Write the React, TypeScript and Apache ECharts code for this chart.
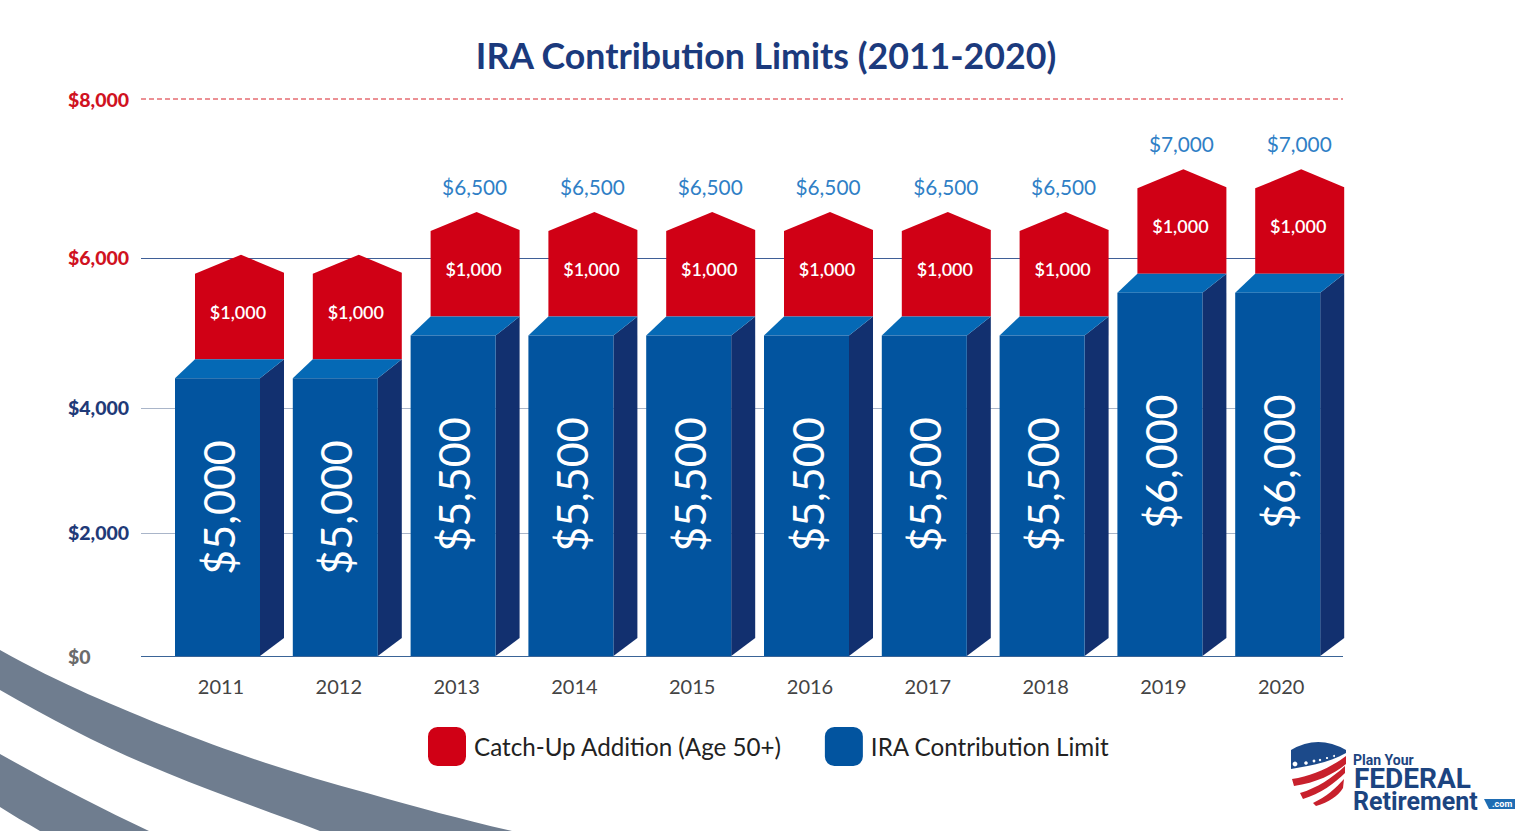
import React, { useEffect, useRef } from "react";
import * as echarts from "echarts";

const categories = ["2011", "2012", "2013", "2014", "2015", "2016", "2017", "2018", "2019", "2020"];
const limitValues = [5000, 5000, 5500, 5500, 5500, 5500, 5500, 5500, 6000, 6000];
const catchUpValues = [1000, 1000, 1000, 1000, 1000, 1000, 1000, 1000, 1000, 1000];
const totalLabelValues = [null, null, 6500, 6500, 6500, 6500, 6500, 6500, 7000, 7000];
const tickLabels = ["$0", "$2,000", "$4,000", "$6,000", "$8,000"];
const tickPlaces = [0, 1767, 3563, 5717, 8000];
const tickColors = ["#6b6b6b", "#1f3a78", "#1f3a78", "#d0121f", "#d0121f"];
const gridLineColors = ["#3a6497", "#a9b5c9", "#a9b5c9", "#3f5f97", "transparent"];
const dashedLineValues = [8000];

const money = (v: number) => "$" + v.toLocaleString("en-US");

const shapes: Record<string, string> = {
  swooshA: "M0 650 C60 684 120 708 167 727 C240 756 300 775 367 793 C420 808 460 819 512 831 L320 831 C270 812 215 793 167 773 C110 750 55 722 0 690 Z",
  swooshB: "M0 754 C50 782 100 808 149 831 L40 831 C25 822 12 815 0 807 Z",
  shieldBlue: "M1291 750 Q1318 734 1346 750 L1346 753 C1330 762 1310 766 1291 769 Z",
  stripe1: "M1346 756 C1330 768 1312 776 1292 779 L1294 786 C1316 783 1334 774 1346 764 Z",
  stripe2: "M1345 766 C1332 778 1317 788 1300 793 L1303 799 C1320 794 1335 783 1345 773 Z",
  stripe3: "M1344 779 C1336 788 1326 797 1313 803 L1316 806 C1329 802 1338 796 1343 788 Z",
  badge: "M1484 799 L1515 799 L1515 809 L1489 809 Z",
};
Object.keys(shapes).forEach((k) => {
  echarts.graphic.registerShape(k, echarts.graphic.extendPath(shapes[k] as any, {} as any) as any);
});

const BLUE_FRONT = "#02549f";
const BLUE_TOP = "#0569b5";
const BLUE_SIDE = "#12306f";
const RED = "#d00015";

function frontLeft(api: any, idx: number) {
  return api.coord([idx, 2000])[0] - 46;
}

function renderRed(_: any, api: any) {
  const idx = api.value(0) as number;
  const base = api.value(1) as number;
  const add = api.value(2) as number;
  const top = api.value(3) as number;
  const fl = frontLeft(api, idx);
  const yBase = api.coord([idx, base])[1];
  const yShoulder = api.coord([idx, base + add])[1];
  const xL = fl + 20;
  const xR = fl + 109;
  const children: any[] = [
    {
      type: "polygon",
      shape: { points: [[xL, yBase], [xL, yShoulder], [fl + 66, yShoulder - 19], [xR, yShoulder - 1], [xR, yBase]] },
      style: { fill: RED },
    },
    {
      type: "text",
      x: fl + 63,
      y: (yBase + yShoulder) / 2 - 5,
      style: { text: money(add), fill: "#fff", font: "600 18px Lato", align: "center", verticalAlign: "middle" },
    },
  ];
  if (top) {
    children.push({
      type: "text",
      x: fl + 64,
      y: yShoulder - 45,
      style: { text: money(top), fill: "#2f7fc6", font: "20.8px Lato", align: "center", verticalAlign: "middle" },
    });
  }
  return { type: "group", children };
}

function renderBlue(params: any, api: any) {
  const idx = api.value(0) as number;
  const val = api.value(1) as number;
  const fl = frontLeft(api, idx);
  const yBack = api.coord([idx, val])[1];
  const yBottom = params.coordSys.y + params.coordSys.height;
  const yFront = yBack + 19;
  const fr = fl + 85;
  const br = fl + 109;
  return {
    type: "group",
    children: [
      { type: "polygon", shape: { points: [[fr, yFront], [br, yBack], [br, yBottom - 18], [fr, yBottom]] }, style: { fill: BLUE_SIDE } },
      { type: "polygon", shape: { points: [[fl, yFront], [fr, yFront], [br, yBack], [fl + 20, yBack]] }, style: { fill: BLUE_TOP } },
      { type: "rect", shape: { x: fl, y: yFront, width: 85, height: yBottom - yFront }, style: { fill: BLUE_FRONT } },
      {
        type: "text",
        x: fl + 43,
        y: yBottom - (yBottom - yFront) * 0.535,
        rotation: Math.PI / 2,
        style: { text: money(val), fill: "#fff", font: "400 43px Lato", align: "center", verticalAlign: "middle" },
      },
    ],
  };
}

function renderDashed(params: any, api: any) {
  const y = api.coord([0, api.value(0)])[1];
  return {
    type: "line",
    shape: { x1: params.coordSys.x, y1: y, x2: params.coordSys.x + params.coordSys.width, y2: y },
    style: { stroke: "#d8232a", lineWidth: 1, lineDash: [5, 3] },
  };
}

const star = (cx: number, cy: number, r: number) => ({ type: "circle", shape: { cx, cy, r }, style: { fill: "#fff" } });

export default function App() {
  const ref = useRef<HTMLDivElement>(null);
  useEffect(() => {
    const chart = echarts.init(ref.current!, undefined, { renderer: "svg" });
    chart.setOption({
      animation: false,
      backgroundColor: "#fff",
      title: {
        text: "IRA Contribution Limits (2011-2020)",
        left: 761,
        top: 32,
        textAlign: "center",
        textStyle: { fontFamily: "Lato", fontSize: 35.7, fontWeight: 700, color: "#1b3a7d" },
      },
      legend: {
        left: 428,
        top: 727,
        padding: 0,
        itemWidth: 38,
        itemHeight: 39,
        itemGap: 43,
        icon: "roundRect",
        selectedMode: false,
        data: ["Catch-Up Addition (Age 50+)", "IRA Contribution Limit"],
        textStyle: { fontFamily: "Lato", fontSize: 24.2, color: "#222", padding: [0, 0, 0, 3] },
      },
      grid: [
        { left: 141, width: 1202, top: 99, height: 557 },
        { left: 162.1, width: 1178, top: 99, height: 557 },
      ],
      xAxis: [
        { gridIndex: 0, type: "value", show: false, min: 0, max: 1 },
        {
          gridIndex: 1,
          type: "category",
          data: categories,
          axisLine: { show: false },
          axisTick: { show: false },
          axisLabel: { fontFamily: "Lato", fontSize: 20, color: "#444", margin: 20 },
        },
      ],
      yAxis: [
        {
          gridIndex: 0,
          type: "value",
          min: 0,
          max: 8000,
          axisLine: { show: false },
          axisTick: { show: false, customValues: tickPlaces },
          axisLabel: {
            customValues: tickPlaces,
            margin: 73,
            align: "left",
            fontFamily: "Lato",
            fontWeight: 900,
            fontSize: 19.5,
            color: (v: any) => tickColors[tickPlaces.indexOf(Number(v))],
            formatter: (v: any) => tickLabels[tickPlaces.indexOf(Number(v))],
          },
          splitLine: { show: true, lineStyle: { color: gridLineColors, width: 1 } },
        },
        { gridIndex: 1, type: "value", min: 1530, max: 8045, show: false, splitLine: { show: false } },
      ],
      series: [
        {
          type: "custom",
          name: "limit line",
          xAxisIndex: 0,
          yAxisIndex: 0,
          silent: true,
          renderItem: renderDashed,
          encode: { y: 0 },
          data: dashedLineValues.map((v) => [v]),
        },
        {
          type: "custom",
          name: "Catch-Up Addition (Age 50+)",
          xAxisIndex: 1,
          yAxisIndex: 1,
          itemStyle: { color: RED },
          renderItem: renderRed,
          encode: { x: 0, y: 1 },
          data: categories.map((_, i) => [i, limitValues[i], catchUpValues[i], totalLabelValues[i] ?? 0]),
        },
        {
          type: "custom",
          name: "IRA Contribution Limit",
          xAxisIndex: 1,
          yAxisIndex: 1,
          itemStyle: { color: BLUE_FRONT },
          renderItem: renderBlue,
          encode: { x: 0, y: 1 },
          data: categories.map((_, i) => [i, limitValues[i]]),
        },
      ],
      graphic: [
        { type: "swooshA", x: 0, y: 0, silent: true, style: { fill: "#6f7d8f" } },
        { type: "swooshB", x: 0, y: 0, silent: true, style: { fill: "#6f7d8f" } },
        { type: "shieldBlue", x: 0, y: 0, silent: true, style: { fill: "#1c4a8a" } },
        { type: "stripe1", x: 0, y: 0, silent: true, style: { fill: "#c8202c" } },
        { type: "stripe2", x: 0, y: 0, silent: true, style: { fill: "#c8202c" } },
        { type: "stripe3", x: 0, y: 0, silent: true, style: { fill: "#c8202c" } },
        star(1295, 764, 2.4),
        star(1306, 763, 1.8),
        star(1314, 761, 1.4),
        star(1320, 760, 1.2),
        star(1327, 758, 1.1),
        star(1334, 756, 1),
        { type: "text", x: 1353, y: 760, style: { text: "Plan Your", fill: "#1c4480", font: "700 14px Roboto", verticalAlign: "middle", lineHeight: 13 } },
        { type: "text", x: 1354, y: 778, style: { text: "FEDERAL", fill: "#1c4480", font: "700 28px Roboto", verticalAlign: "middle", lineHeight: 20 } },
        { type: "text", x: 1353, y: 801, style: { text: "Retirement", fill: "#1c4480", font: "700 25px Roboto", verticalAlign: "middle", lineHeight: 18 } },
        { type: "badge", x: 0, y: 0, silent: true, style: { fill: "#1f6db3" } },
        { type: "text", x: 1492, y: 799, style: { text: ".com", fill: "#fff", font: "700 9px Roboto" } },
      ],
    });
    return () => chart.dispose();
  }, []);
  return <div ref={ref} style={{ position: "fixed", left: 0, top: 0, width: 1536, height: 831 }} />;
}
